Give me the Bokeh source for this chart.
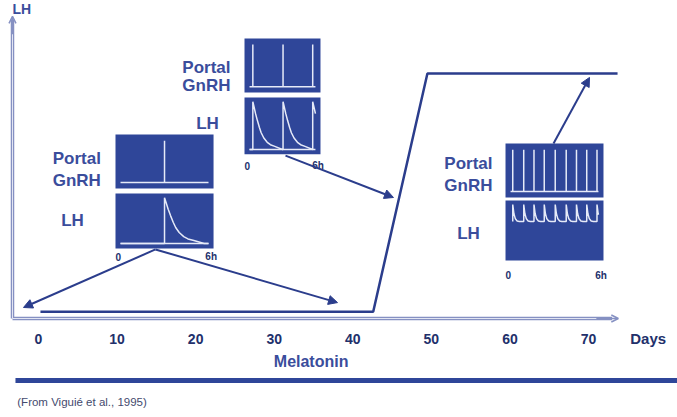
import numpy as np
from bokeh.plotting import figure
from bokeh.models import Range1d, Arrow, NormalHead, OpenHead
from bokeh.core.properties import value
from bokeh.embed import file_html
from bokeh.resources import INLINE

# ---------------- data ----------------
day_ticks = [0, 10, 20, 30, 40, 50, 60, 70]
tick_labels = ["0", "10", "20", "30", "40", "50", "60", "70"]

# LH level (arbitrary units) across days of melatonin treatment
lh_days = [0.25, 42.6, 49.5, 73.7]
lh_level = [0.28, 0.28, 10.0, 10.0]

# portal GnRH pulse times (hours, 0-6 h window) in each inset
left_gnrh_h = [3.0]
mid_gnrh_h = [0.3, 3.05, 5.75]
right_gnrh_h = [0.15, 0.9, 1.6, 2.3, 3.05, 3.8, 4.5, 5.2, 5.9]

# LH pulse profile (hours after a GnRH pulse, relative level)
slow_t = [0.0, 0.1, 0.25, 0.41, 0.6, 0.76, 1.0, 1.31, 1.6, 2.0, 2.7]
slow_v = [1.0, 0.9, 0.75, 0.61, 0.46, 0.35, 0.24, 0.15, 0.1, 0.065, 0.0]
fast_t = [0.0, 0.08, 0.18, 0.3, 0.45]
fast_v = [1.0, 0.82, 0.72, 0.68, 0.67]

# ---------------- style ----------------
NAVY = "#2b3d8c"
BOX = "#2f4699"
TRACE = "#e6eaf8"
LABEL = "#3a4d9c"
TICK = "#22306b"
AXIS = "#8590c2"
FONT = value("Liberation Sans")

p = figure(width=677, height=417, x_range=Range1d(-4.836, 81.33),
           y_range=Range1d(-4.04, 12.98), x_axis_type=None, y_axis_type=None,
           toolbar_location=None, output_backend="svg", min_border=0)
p.outline_line_color = None
p.xgrid.visible = False
p.ygrid.visible = False
p.background_fill_color = "white"

# ---------------- axes ----------------
ax_x0 = -3.31
p.segment(x0=[ax_x0, ax_x0], y0=[0, 0], x1=[73.0, ax_x0], y1=[0, 12.2],
          line_color=AXIS, line_width=3.5)
p.segment(x0=[ax_x0, ax_x0], y0=[0, 0], x1=[73.0, ax_x0], y1=[0, 12.2],
          line_color="#e3e6f3", line_width=1)
p.add_layout(Arrow(end=OpenHead(size=7, line_color=AXIS, line_width=1.5),
                   x_start=71.0, y_start=0, x_end=73.8, y_end=0,
                   line_color=AXIS, line_width=1.5))
p.add_layout(Arrow(end=OpenHead(size=7, line_color=AXIS, line_width=1.5),
                   x_start=ax_x0, y_start=11.6, x_end=ax_x0, y_end=12.33,
                   line_color=AXIS, line_width=1.5))

p.text(x=day_ticks, y=[-0.82] * len(day_ticks), text=tick_labels,
       text_font=FONT, text_font_style="bold", text_font_size="14px",
       text_color=TICK, text_align="center", text_baseline="middle")
p.text(x=[77.6], y=[-0.82], text=["Days"], text_font=FONT, text_font_style="bold",
       text_font_size="15px", text_color=TICK, text_align="center",
       text_baseline="middle")
p.text(x=[ax_x0], y=[12.62], text=["LH"], text_font=FONT, text_font_style="bold",
       text_font_size="14px", text_color=LABEL, text_align="left",
       text_baseline="middle")

p.text(x=[34.7], y=[-1.755], text=["Melatonin"], text_font=FONT,
       text_font_style="bold", text_font_size="16px", text_color=LABEL,
       text_align="center", text_baseline="middle")
p.segment(x0=[-2.93], y0=[-2.53], x1=[83], y1=[-2.53], line_color=BOX,
          line_width=5)
p.text(x=[-2.7], y=[-3.39], text=["(From Viguié et al., 1995)"], text_font=FONT,
       text_font_size="11.5px", text_color="#444a6e", text_align="left",
       text_baseline="middle")

# ---------------- main LH line ----------------
p.line(lh_days, lh_level, line_color=NAVY, line_width=2.5)


# ---------------- insets ----------------
def build_trace(pulses, st, sv, start_level):
    xs, ys = ([0.0], [0.0]) if start_level == 0 else ([], [])
    cur = start_level
    for i, pt in enumerate(pulses):
        nxt = pulses[i + 1] if i + 1 < len(pulses) else 6.0
        span = nxt - pt
        xs += [pt, pt]
        ys += [cur, 1.0]
        for t, v in zip(st, sv):
            if 0 < t < span:
                xs.append(pt + t)
                ys.append(v)
        cur = float(np.interp(span, st, sv))
        xs.append(nxt)
        ys.append(cur)
    return xs, ys


def inset(box, pulses, st, sv, start_level, lh_base, lab):
    l, r, t1, b1, t2, b2 = box
    p.quad(left=[l, l], right=[r, r], top=[t1, t2], bottom=[b1, b2],
           fill_color=BOX, line_color=None)
    pad = 0.64
    w = r - l - 2 * pad

    def tx(h):
        return l + pad + h / 6.0 * w

    g_base, g_top = b1 + 0.24, t1 - 0.25
    p.segment(x0=[tx(0)], y0=[g_base], x1=[tx(6)], y1=[g_base],
              line_color=TRACE, line_width=1.5)
    p.segment(x0=[tx(h) for h in pulses], y0=[g_base] * len(pulses),
              x1=[tx(h) for h in pulses], y1=[g_top] * len(pulses),
              line_color=TRACE, line_width=1.5)
    z, pk = b2 + 0.2, t2 - 0.17
    hx, hy = build_trace(pulses, st, sv, start_level)
    p.line([tx(h) for h in hx], [z + v * (pk - z) for v in hy],
           line_color=TRACE, line_width=1.5)
    if lh_base:
        p.segment(x0=[tx(0)], y0=[z], x1=[tx(6)], y1=[z], line_color=TRACE,
                  line_width=1.5)
    lx, ly1, ly2, lhx, lhy, zy = lab
    p.text(x=[lx, lx], y=[ly1, ly2], text=["Portal", "GnRH"], text_font=FONT,
           text_font_style="bold", text_font_size="17px", text_color=LABEL,
           text_align="right", text_baseline="middle")
    p.text(x=[lhx], y=[lhy], text=["LH"], text_font=FONT, text_font_style="bold",
           text_font_size="17px", text_color=LABEL, text_align="center",
           text_baseline="middle")
    p.text(x=[l + 0.35, r - 0.3], y=[zy, zy], text=["0", "6h"], text_font=FONT,
           text_font_style="bold", text_font_size="10px", text_color=TICK,
           text_align="center", text_baseline="middle")


inset((9.80, 22.28, 7.51, 5.31, 5.10, 2.86), left_gnrh_h, slow_t, slow_v, 0.0, True,
      (7.94, 6.53, 5.63, 4.33, 4.0, 2.53))
inset((26.22, 35.89, 11.43, 9.22, 9.02, 6.70), mid_gnrh_h, slow_t, slow_v, 0.0, True,
      (24.44, 10.24, 9.51, 21.51, 7.96, 6.24))
inset((59.44, 71.91, 7.14, 4.94, 4.82, 2.37), right_gnrh_h, fast_t, fast_v, 0.67,
      False, (57.78, 6.33, 5.43, 54.73, 3.47, 1.76))

# ---------------- arrows ----------------
arrows = [((14.89, 2.82), (-1.91, 0.45)), ((14.89, 2.82), (38.06, 0.65)),
          ((31.44, 6.65), (45.18, 4.94)), ((65.55, 7.14), (70.13, 9.84))]
for (xs_, ys_), (xe, ye) in arrows:
    p.add_layout(Arrow(end=NormalHead(size=9, fill_color=NAVY, line_color=NAVY),
                       x_start=xs_, y_start=ys_, x_end=xe, y_end=ye,
                       line_color=NAVY, line_width=2))

open("out.html", "w").write(file_html(p, INLINE))
